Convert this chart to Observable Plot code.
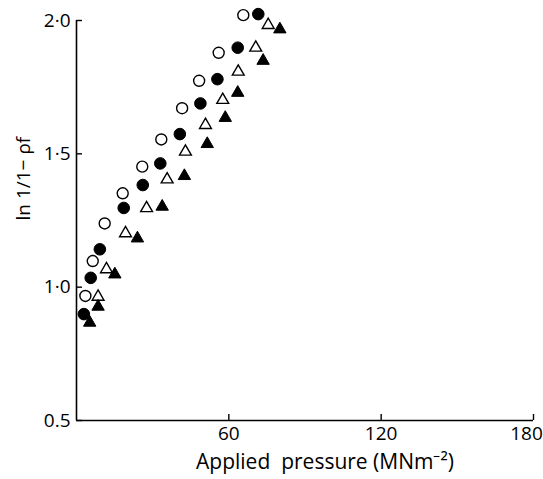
<!DOCTYPE html>
<html><head><meta charset="utf-8">
<script src="https://cdn.jsdelivr.net/npm/d3@7"></script>
<script src="https://cdn.jsdelivr.net/npm/@observablehq/plot@0.6"></script>
<style>body{margin:0;background:#fff}</style>
</head><body><div id="chart"></div>
<script>
// Applied pressure (MN m^-2) and ln 1/(1-ρf) for four series
const openCircleX  = [3.5, 6.4, 11.1, 18.2, 25.9, 33.4, 41.6, 48.3, 56.0, 65.7];
const openCircleY  = [0.967, 1.098, 1.239, 1.352, 1.452, 1.554, 1.671, 1.774, 1.879, 2.02];
const filledCircleX = [2.9, 5.6, 9.2, 18.6, 26.1, 33.0, 40.7, 48.8, 55.5, 63.5, 71.6];
const filledCircleY = [0.899, 1.035, 1.142, 1.297, 1.383, 1.464, 1.574, 1.689, 1.780, 1.898, 2.024];
const openTriangleX = [8.5, 11.8, 19.3, 27.6, 35.7, 42.9, 50.8, 57.6, 63.7, 70.6, 75.5];
const openTriangleY = [0.964, 1.067, 1.202, 1.296, 1.404, 1.508, 1.608, 1.702, 1.808, 1.898, 1.983];
const filledTriangleX = [5.2, 8.5, 15.1, 24.0, 33.75, 42.5, 51.5, 58.6, 63.5, 73.5, 80.1];
const filledTriangleY = [0.867, 0.927, 1.048, 1.183, 1.302, 1.417, 1.537, 1.635, 1.729, 1.849, 1.967];

const xTicks = [60, 120, 180];
const xTickLabels = ["60", "120", "180"];
const yTicks = [0.5, 1.0, 1.5, 2.0];
const yTickLabels = ["0.5", "1·0", "1·5", "2·0"];
const xLabel = "Applied  pressure (MNm⁻²)";
const yLabel = "ln 1/1− ρf";

const toRows = (xs, ys) => xs.map((x, i) => ({x, y: ys[i]}));
const oc = toRows(openCircleX, openCircleY);
const fc = toRows(filledCircleX, filledCircleY);
const ot = toRows(openTriangleX, openTriangleY);
const ft = toRows(filledTriangleX, filledTriangleY);
const xLab = xTicks.map((v, i) => ({v, t: xTickLabels[i]}));

const chart = Plot.plot({
  width: 543,
  height: 479,
  marginLeft: 76,
  marginRight: 10,
  marginTop: 20,
  marginBottom: 59,
  style: {fontFamily: "'Open Sans', sans-serif", background: "white", color: "black"},
  x: {domain: [0, 180], axis: null},
  y: {domain: [0.5, 2.0], axis: null},
  marks: [
    Plot.ruleX([0], {stroke: "black", strokeWidth: 1.6}),
    Plot.ruleY([0.5], {stroke: "black", strokeWidth: 1.6}),
    Plot.axisX(xTicks, {anchor: "bottom", tickSize: 6, dy: -6, text: null, label: null, strokeWidth: 1.4}),
    Plot.text(xLab.slice(0, 2), {x: "v", text: "t", frameAnchor: "bottom", dy: 19, fontSize: 19}),
    Plot.text(xLab.slice(2), {x: "v", text: "t", frameAnchor: "bottom", dx: -7, dy: 19, fontSize: 19}),
    Plot.axisY(yTicks, {anchor: "left", tickSize: 6, dx: 6, tickPadding: 6, fontSize: 19, label: null,
      strokeWidth: 1.4, tickFormat: d => yTickLabels[yTicks.indexOf(d)]}),
    Plot.text([yLabel], {frameAnchor: "left", dx: -53, rotate: -90, fontSize: 19}),
    Plot.text([xLabel], {frameAnchor: "bottom", dx: 20, dy: 48, fontSize: 21}),
    Plot.dot(oc, {x: "x", y: "y", symbol: "circle", r: 5.5, fill: "white", stroke: "black", strokeWidth: 1.4}),
    Plot.dot(fc, {x: "x", y: "y", symbol: "circle", r: 5.8, fill: "black", stroke: "black", strokeWidth: 1}),
    Plot.dot(ot, {x: "x", y: "y", symbol: "triangle", r: 4.4, fill: "white", stroke: "black", strokeWidth: 1.4}),
    Plot.dot(ft, {x: "x", y: "y", symbol: "triangle", r: 4.6, fill: "black", stroke: "black", strokeWidth: 1})
  ]
});
document.getElementById("chart").appendChild(chart);
</script>
</body></html>
